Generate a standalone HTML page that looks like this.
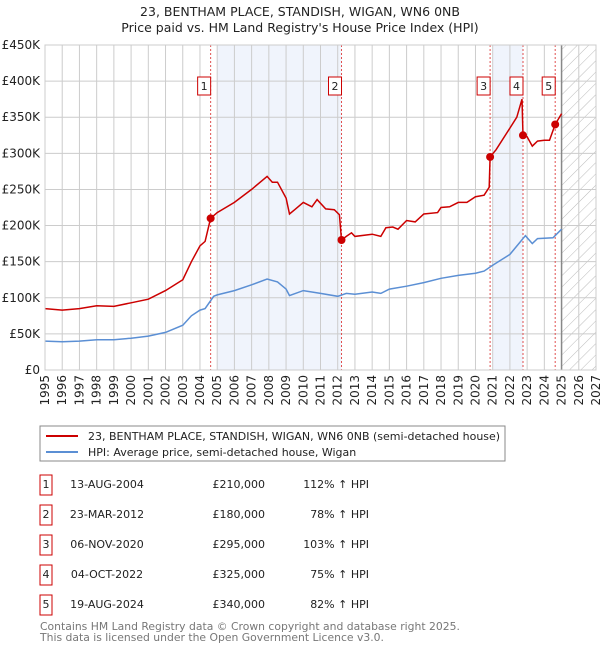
<!DOCTYPE html>
<html><head><meta charset="utf-8"><style>
body{margin:0;background:#fff;font-family:"Liberation Sans","DejaVu Sans",sans-serif;}
svg text{font-family:"DejaVu Sans","Liberation Sans",sans-serif;}
</style></head><body>
<svg id="c" width="600" height="650" xmlns="http://www.w3.org/2000/svg">
<defs><pattern id="hatch" width="8" height="8" patternUnits="userSpaceOnUse" patternTransform="rotate(45)"><line x1="0" y1="0" x2="0" y2="8" stroke="#bbb" stroke-width="1"/></pattern></defs>
<text x="300" y="16" text-anchor="middle" font-size="12.5" fill="#222">23, BENTHAM PLACE, STANDISH, WIGAN, WN6 0NB</text>
<text x="300" y="32" text-anchor="middle" font-size="12.5" fill="#222">Price paid vs. HM Land Registry's House Price Index (HPI)</text>
<g id="plot"></g>
<rect x="40" y="426" width="465" height="35" fill="#fff" stroke="#888"/>
<line x1="46" y1="436" x2="78" y2="436" stroke="#cc0000" stroke-width="2"/>
<text x="88" y="440" font-size="11" fill="#222">23, BENTHAM PLACE, STANDISH, WIGAN, WN6 0NB (semi-detached house)</text>
<line x1="46" y1="452" x2="78" y2="452" stroke="#5b8fd4" stroke-width="2"/>
<text x="88" y="456" font-size="11" fill="#222">HPI: Average price, semi-detached house, Wigan</text>
<g id="table"></g>
<text x="40" y="630" font-size="10.8" fill="#777">Contains HM Land Registry data © Crown copyright and database right 2025.</text>
<text x="40" y="641" font-size="10.8" fill="#777">This data is licensed under the Open Government Licence v3.0.</text>
</svg>
<script>
const hpiYears=[1995,1996,1997,1998,1999,2000,2001,2002,2003,2003.5,2004,2004.3,2004.8,2005,2006,2007,2007.9,2008.5,2009.0,2009.2,2010,2011,2012,2012.5,2013,2014,2014.5,2015,2016,2017,2018,2019,2020,2020.5,2021,2022,2022.9,2023.3,2023.6,2024.5,2025];
const hpiValues=[40,39,40,42,42,44,47,52,62,75,83,85,102,104,110,118,126,122,112,103,110,106,102,106,105,108,106,112,116,121,127,131,134,137,145,160,186,175,182,183,195];
const redYears=[1995,1996,1997,1998,1999,2000,2001,2002,2003,2003.5,2004,2004.3,2004.62,2005,2006,2007,2007.9,2008.2,2008.5,2009,2009.2,2009.5,2010,2010.5,2010.8,2011.3,2011.8,2012.1,2012.22,2012.5,2012.8,2013,2014,2014.5,2014.8,2015.2,2015.5,2016,2016.5,2017,2017.8,2018,2018.5,2019,2019.5,2020,2020.5,2020.8,2020.85,2021.2,2022,2022.4,2022.7,2022.76,2023.0,2023.3,2023.6,2024,2024.3,2024.63,2025.0];
const redValues=[85,83,85,89,88,93,98,110,125,150,172,178,210,218,232,250,268,260,260,238,216,222,232,226,236,223,222,215,180,185,190,185,188,185,197,198,195,207,205,216,218,225,226,232,232,240,242,253,295,305,335,350,375,325,323,310,317,318,318,340,355];
const saleLabels=["1","2","3","4","5"];
const saleYears=[2004.62,2012.22,2020.85,2022.76,2024.63];
const saleValues=[210,180,295,325,340];
const saleDates=["13-AUG-2004","23-MAR-2012","06-NOV-2020","04-OCT-2022","19-AUG-2024"];
const salePrices=["£210,000","£180,000","£295,000","£325,000","£340,000"];
const salePcts=["112% ↑ HPI","78% ↑ HPI","103% ↑ HPI","75% ↑ HPI","82% ↑ HPI"];
const yTicks=[0,50,100,150,200,250,300,350,400,450];
const yTickLabels=["£0","£50K","£100K","£150K","£200K","£250K","£300K","£350K","£400K","£450K"];
const xTicks=[1995,1996,1997,1998,1999,2000,2001,2002,2003,2004,2005,2006,2007,2008,2009,2010,2011,2012,2013,2014,2015,2016,2017,2018,2019,2020,2021,2022,2023,2024,2025,2026,2027];

const X0=45,X1=596,Y0=370,Y1=45;
const xs=y=>X0+(y-1995)/(2027-1995)*(X1-X0);
const ys=v=>Y0-v/450*(Y0-Y1);
const NS="http://www.w3.org/2000/svg";
const plot=document.getElementById('plot');
function mk(tag,attrs,parent){const e=document.createElementNS(NS,tag);for(const k in attrs)e.setAttribute(k,attrs[k]);(parent||plot).appendChild(e);return e;}

let e=mk('rect',{x:X0,y:Y1,width:X1-X0,height:Y0-Y1,fill:'#fff'});


e=mk('rect',{x:xs(2005),y:Y1,width:xs(saleYears[1])-xs(2005),height:Y0-Y1,fill:'#f0f4fc'});


e=mk('rect',{x:xs(2021),y:Y1,width:xs(saleYears[3])-xs(2021),height:Y0-Y1,fill:'#f0f4fc'});


e=mk('rect',{x:xs(2025),y:Y1,width:X1-xs(2025),height:Y0-Y1,fill:'url(#hatch)'});


xTicks.forEach(t=>{
  let g=mk('line',{x1:xs(t),x2:xs(t),y1:Y1,y2:Y0,stroke:'#ccc','stroke-width':1});
  
  
  let tx=mk('text',{x:0,y:0,'font-size':12,fill:'#222','text-anchor':'end',transform:`translate(${xs(t)+4},${Y0+5}) rotate(-90)`});
  tx.textContent=t;
  
  
});
yTicks.forEach((t,i)=>{
  let g=mk('line',{x1:X0,x2:X1,y1:ys(t),y2:ys(t),stroke:'#ccc','stroke-width':1});
  
  
  let tx=mk('text',{x:X0-5,y:ys(t)+4,'font-size':12,fill:'#222','text-anchor':'end'});
  tx.textContent=yTickLabels[i];
  
  
});
e=mk('line',{x1:xs(2025),x2:xs(2025),y1:Y1,y2:Y0,stroke:'#888','stroke-width':1.5});


saleYears.forEach((y,i)=>{
  let l=mk('line',{x1:xs(y),x2:xs(y),y1:Y1,y2:Y0,stroke:'#e05050','stroke-width':1,'stroke-dasharray':'2,2'});
  
  
});
e=mk('path',{d:hpiYears.map((y,i)=>(i?'L':'M')+xs(y).toFixed(1)+','+ys(hpiValues[i]).toFixed(1)).join(''),fill:'none',stroke:'#5b8fd4','stroke-width':1.5});


e=mk('path',{d:redYears.map((y,i)=>(i?'L':'M')+xs(y).toFixed(1)+','+ys(redValues[i]).toFixed(1)).join(''),fill:'none',stroke:'#cc0000','stroke-width':1.5});


saleYears.forEach((y,i)=>{
  let c=mk('circle',{cx:xs(y),cy:ys(saleValues[i]),r:4,fill:'#cc0000'});
  
  
  let b=mk('rect',{x:xs(y)-13,y:77,width:13,height:18,fill:'#fff',stroke:'#cc0000'});
  
  
  let t=mk('text',{x:xs(y)-6.5,y:90,'font-size':11,'text-anchor':'middle',fill:'#222'});
  t.textContent=saleLabels[i];
  
  
});
e=mk('rect',{x:X0,y:Y1,width:X1-X0,height:Y0-Y1,fill:'none',stroke:'#ccc'});



const tb=document.getElementById('table');
saleLabels.forEach((s,i)=>{
  const cy=484+i*30;
  let b=mk('rect',{x:40,y:cy-9,width:12,height:20,fill:'#fff',stroke:'#cc0000'},tb);
  
  
  let t=mk('text',{x:46,y:cy+4,'font-size':11,'text-anchor':'middle',fill:'#222'},tb);t.textContent=s;
  
  
  t=mk('text',{x:107,y:cy+4,'font-size':11,'text-anchor':'middle',fill:'#222'},tb);t.textContent=saleDates[i];
  
  
  t=mk('text',{x:265,y:cy+4,'font-size':11,'text-anchor':'end',fill:'#222'},tb);t.textContent=salePrices[i];
  
  
  t=mk('text',{x:369,y:cy+4,'font-size':11,'text-anchor':'end',fill:'#222'},tb);t.textContent=salePcts[i];
  
  
});
</script>
</body></html>
